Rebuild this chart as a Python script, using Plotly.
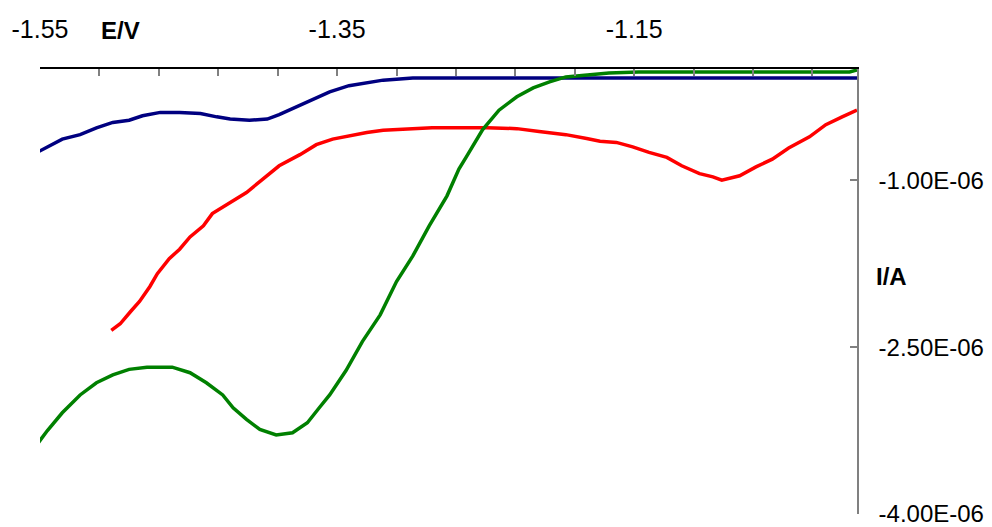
import plotly.graph_objects as go

# ---- data (E in V, I in A) ----
blue_x = [-1.552, -1.543, -1.535, -1.523, -1.512, -1.501, -1.490, -1.481, -1.469, -1.456,
          -1.442, -1.431, -1.422, -1.409, -1.397, -1.389, -1.377, -1.366, -1.355, -1.342,
          -1.330, -1.319, -1.299, -1.000]
blue_y = [-0.75e-6, -0.69e-6, -0.63e-6, -0.59e-6, -0.53e-6, -0.48e-6, -0.46e-6, -0.42e-6, -0.39e-6, -0.39e-6,
          -0.40e-6, -0.43e-6, -0.45e-6, -0.46e-6, -0.45e-6, -0.41e-6, -0.34e-6, -0.27e-6, -0.205e-6, -0.15e-6,
          -0.125e-6, -0.10e-6, -0.08e-6, -0.08e-6]

red_x = [-1.502, -1.496, -1.489, -1.483, -1.476, -1.471, -1.463, -1.456, -1.449, -1.440,
         -1.434, -1.422, -1.411, -1.400, -1.389, -1.375, -1.364, -1.353, -1.342, -1.330,
         -1.319, -1.303, -1.286, -1.249, -1.229, -1.214, -1.196, -1.182, -1.173, -1.162,
         -1.151, -1.140, -1.128, -1.118, -1.106, -1.097, -1.091, -1.079, -1.068, -1.057,
         -1.046, -1.032, -1.021, -1.010, -1.000]
red_y = [-2.35e-6, -2.29e-6, -2.18e-6, -2.09e-6, -1.955e-6, -1.84e-6, -1.705e-6, -1.62e-6, -1.51e-6, -1.41e-6,
         -1.30e-6, -1.20e-6, -1.11e-6, -0.99e-6, -0.87e-6, -0.77e-6, -0.68e-6, -0.63e-6, -0.60e-6, -0.57e-6,
         -0.55e-6, -0.536e-6, -0.527e-6, -0.527e-6, -0.536e-6, -0.5625e-6, -0.59e-6, -0.625e-6, -0.65e-6, -0.66e-6,
         -0.70e-6, -0.75e-6, -0.795e-6, -0.87e-6, -0.94e-6, -0.97e-6, -1.00e-6, -0.96e-6, -0.88e-6, -0.81e-6,
         -0.71e-6, -0.61e-6, -0.50e-6, -0.43e-6, -0.37e-6]

green_x = [-1.552, -1.545, -1.535, -1.523, -1.512, -1.501, -1.490, -1.478, -1.461, -1.449,
           -1.438, -1.427, -1.420, -1.411, -1.402, -1.391, -1.380, -1.370, -1.362, -1.355,
           -1.344, -1.333, -1.321, -1.310, -1.299, -1.288, -1.276, -1.268, -1.263, -1.252,
           -1.241, -1.229, -1.218, -1.207, -1.196, -1.182, -1.167, -1.147, -1.005, -1.000]
green_y = [-3.375e-6, -3.25e-6, -3.09e-6, -2.93e-6, -2.82e-6, -2.75e-6, -2.70e-6, -2.68e-6, -2.68e-6, -2.73e-6,
           -2.82e-6, -2.93e-6, -3.045e-6, -3.15e-6, -3.24e-6, -3.29e-6, -3.27e-6, -3.18e-6, -3.045e-6, -2.93e-6,
           -2.71e-6, -2.45e-6, -2.21e-6, -1.91e-6, -1.68e-6, -1.41e-6, -1.14e-6, -0.90e-6, -0.79e-6, -0.545e-6,
           -0.37e-6, -0.25e-6, -0.17e-6, -0.116e-6, -0.071e-6, -0.054e-6, -0.036e-6, -0.027e-6, -0.027e-6, -0.009e-6]

x_tickvals = [-1.55, -1.51, -1.47, -1.43, -1.39, -1.35, -1.31, -1.27, -1.23, -1.19, -1.15, -1.11, -1.07, -1.03]
x_ticktext = ["-1.55", "", "", "", "", "-1.35", "", "", "", "", "-1.15", "", "", ""]
y_tickvals = [-4.0e-6, -2.5e-6, -1.0e-6]
y_ticktext = ["-4.00E-06", "-2.50E-06", "-1.00E-06"]

FONT = "Liberation Sans, Arial, sans-serif"

fig = go.Figure()
for xs, ys, col in [(blue_x, blue_y, "#000080"), (red_x, red_y, "#FF0000"), (green_x, green_y, "#008000")]:
    fig.add_trace(go.Scatter(x=xs, y=ys, mode="lines", line=dict(color=col, width=3.5),
                             showlegend=False, hoverinfo="skip"))

fig.update_layout(
    width=992, height=527,
    margin=dict(l=40, r=135, t=69, b=13),
    paper_bgcolor="white", plot_bgcolor="white",
    font=dict(family=FONT, size=24, color="black"),
    xaxis=dict(range=[-1.55, -1.0], side="top", showgrid=False, zeroline=False,
               showline=True, linecolor="black", linewidth=1.5, automargin=False,
               ticks="inside", ticklen=7, tickcolor="#808080", tickwidth=1.5,
               tickvals=x_tickvals, ticktext=x_ticktext, ticklabelstandoff=19,
               ticklabeloverflow="allow",
               tickfont=dict(size=25, family=FONT)),
    yaxis=dict(range=[-4.0e-6, 0], side="right", showgrid=False, zeroline=False,
               showline=True, linecolor="#808080", linewidth=1.5, automargin=False,
               ticks="inside", ticklen=7, tickcolor="#808080", tickwidth=1.5,
               tickvals=y_tickvals, ticktext=y_ticktext, ticklabelstandoff=15,
               ticklabeloverflow="allow",
               tickfont=dict(size=24, family=FONT)),
    annotations=[
        dict(text="<b>E/V</b>", xref="paper", yref="paper", x=0.0991, y=1.087,
             xanchor="center", yanchor="middle", showarrow=False, font=dict(size=24, family=FONT)),
        dict(text="<b>I/A</b>", xref="paper", yref="paper", x=1.0208, y=0.5335,
             xanchor="left", yanchor="middle", showarrow=False, font=dict(size=24, family=FONT)),
    ],
)

fig.write_html("out.html", config={"displayModeBar": False},
               post_script="document.body.style.margin='0';document.body.style.overflow='hidden';")
